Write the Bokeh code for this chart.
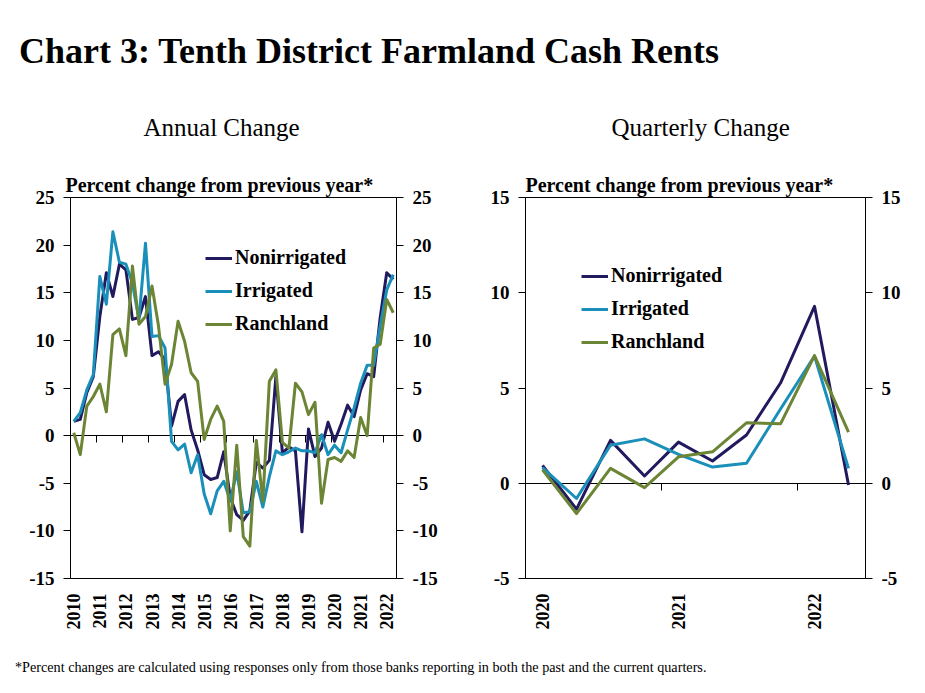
import numpy as np
from bokeh.plotting import figure
from bokeh.models import (Range1d, LinearAxis, FixedTicker, Legend, LegendItem,
                          Title, Div)
from bokeh.layouts import row, column
from bokeh.embed import file_html
from bokeh.resources import INLINE

# ---------------- data ----------------
annual_years = [2010, 2011, 2012, 2013, 2014, 2015, 2016,
                2017, 2018, 2019, 2020, 2021, 2022]
# quarterly observations, 2010Q1 .. 2022Q2
annual_nonirrigated = [1.5, 1.7, 4.5, 6.2, 12.5, 17.1, 14.6, 18.0, 17.4, 12.2,
                       12.4, 14.6, 8.4, 8.8, 8.0, 1.0, 3.6, 4.3, 0.6, -1.5,
                       -4.1, -4.6, -4.4, -1.7, -6.5, -8.3, -8.9, -7.9, -2.8, -3.4,
                       -2.6, 6.2, -1.8, -1.2, -1.6, -10.1, 0.7, -2.2, -1.3, 1.4,
                       -0.6, 1.2, 3.2, 2.0, 4.8, 6.5, 6.2, 12.4, 17.1, 16.4]
annual_irrigated = [1.5, 2.4, 4.8, 6.4, 16.7, 13.8, 21.4, 18.2, 18.0, 16.0,
                    12.2, 20.2, 10.4, 10.5, 9.2, -0.6, -1.5, -0.9, -3.9, -2.0,
                    -6.1, -8.2, -5.8, -4.8, -6.8, -3.8, -8.1, -8.0, -4.8, -7.5,
                    -4.3, -1.6, -2.0, -1.7, -1.3, -1.6, -1.6, -1.8, 0.1, -2.0,
                    -1.0, -1.8, 0.6, 2.9, 5.5, 7.4, 7.4, 11.5, 15.3, 16.9]
annual_ranchland = [0.3, -2.0, 3.1, 4.1, 5.4, 2.5, 10.6, 11.2, 8.4, 17.8,
                    11.7, 12.5, 15.7, 11.5, 5.4, 7.5, 12.0, 9.9, 6.6, 5.7,
                    -0.4, 1.7, 3.1, 1.5, -10.0, -1.0, -10.6, -11.6, -0.5, -6.9,
                    5.7, 6.9, -0.7, -1.3, 5.5, 4.6, 2.2, 3.5, -7.1, -2.5,
                    -2.3, -2.7, -1.6, -2.3, 1.9, 0.0, 9.2, 9.6, 14.3, 12.9]

quarterly_years = [2020, 2021, 2022]
# quarterly observations, 2020Q1 .. 2022Q2
quarterly_nonirrigated = [0.94, -1.36, 2.25, 0.38, 2.16, 1.17, 2.53, 5.26, 9.29, -0.09]
quarterly_irrigated = [0.82, -0.80, 2.00, 2.33, 1.52, 0.85, 1.05, 3.90, 6.68, 0.78]
quarterly_ranchland = [0.70, -1.59, 0.78, -0.23, 1.39, 1.65, 3.17, 3.12, 6.70, 2.68]

series_names = ["Nonirrigated", "Irrigated", "Ranchland"]
series_colors = ["#221a5e", "#1a8fba", "#6b8535"]

annual_ticks = [-15, -10, -5, 0, 5, 10, 15, 20, 25]
quarterly_ticks = [-5, 0, 5, 10, 15]

SERIF = "Liberation Serif"


def make_panel(years, series, yticks, heading, heading_offset, sub_offset,
               frame_width, border_left, border_right, legend_loc):
    n = len(series[0])
    x = np.arange(n)
    p = figure(frame_width=frame_width, frame_height=381,
               x_range=Range1d(-0.5, n - 0.5),
               y_range=Range1d(yticks[0], yticks[-1]),
               output_backend="svg", toolbar_location=None,
               min_border_left=border_left, min_border_right=border_right,
               min_border_top=109, min_border_bottom=70)
    p.grid.visible = False
    p.outline_line_color = "black"
    p.outline_line_alpha = 1.0
    p.outline_line_width = 1
    p.background_fill_color = "white"
    p.border_fill_color = "white"

    # year labels at the first quarter of each year
    label_pos = [4 * k for k in range(len(years))]
    xa = p.xaxis[0]
    xa.ticker = FixedTicker(ticks=label_pos, minor_ticks=[])
    xa.major_label_overrides = {pos: str(yr) for pos, yr in zip(label_pos, years)}
    xa.axis_line_color = None
    xa.major_tick_line_color = None
    xa.minor_tick_line_color = None
    xa.major_label_orientation = np.pi / 2
    xa.major_label_standoff = 9
    xa.major_label_text_font = SERIF
    xa.major_label_text_font_style = "bold"
    xa.major_label_text_font_size = "18px"
    xa.major_label_text_color = "black"

    # category axis crossing at zero, tick marks between years
    bounds = [4 * k - 0.5 for k in range(len(years))]
    zero_axis = LinearAxis(fixed_location=0,
                           ticker=FixedTicker(ticks=bounds, minor_ticks=[]),
                           axis_line_color="black", axis_line_width=1,
                           major_tick_out=7, major_tick_in=0,
                           major_tick_line_color="black",
                           minor_tick_line_color=None,
                           major_label_text_color=None,
                           major_label_text_font_size="1px")
    zero_axis.level = "underlay"
    p.add_layout(zero_axis, "below")

    # y axes, left and right
    ya = p.yaxis[0]
    ra = LinearAxis()
    p.add_layout(ra, "right")
    for ax in (ya, ra):
        ax.ticker = FixedTicker(ticks=yticks, minor_ticks=[])
        ax.major_label_overrides = {t: str(t) for t in yticks}
        ax.axis_line_color = "black"
        ax.major_tick_out = 7
        ax.major_tick_in = 0
        ax.major_tick_line_color = "black"
        ax.minor_tick_line_color = None
        ax.major_label_standoff = 9
        ax.major_label_text_font = SERIF
        ax.major_label_text_font_style = "bold"
        ax.major_label_text_font_size = "19px"
        ax.major_label_text_color = "black"

    items = []
    for name, vals, col in zip(series_names, series, series_colors):
        r = p.line(x, vals, line_color=col, line_width=3, line_join="round")
        items.append(LegendItem(label=name, renderers=[r]))

    legend = Legend(items=items, location=legend_loc, orientation="vertical",
                    background_fill_alpha=0, border_line_color=None,
                    label_text_font=SERIF, label_text_font_style="bold",
                    label_text_font_size="20px", label_text_color="black",
                    glyph_width=27, glyph_height=20, label_height=20,
                    spacing=10, padding=0, margin=0, label_standoff=3)
    p.add_layout(legend)

    sub = Title(text="Percent change from previous year*", align="left",
                offset=sub_offset, text_font=SERIF, text_font_style="bold",
                text_font_size="20px", text_color="black", standoff=3)
    p.add_layout(sub, "above")
    head = Title(text=heading, align="left", offset=heading_offset,
                 text_font=SERIF, text_font_style="normal",
                 text_font_size="25px", text_color="black", standoff=59)
    p.add_layout(head, "above")
    return p


p1 = make_panel(annual_years, [annual_nonirrigated, annual_irrigated, annual_ranchland],
                annual_ticks, "Annual Change", 73, -5, 326, 70, 64, (135, 243))
p2 = make_panel(quarterly_years, [quarterly_nonirrigated, quarterly_irrigated, quarterly_ranchland],
                quarterly_ticks, "Quarterly Change", 86, 0, 340, 65, 42, (56, 225))

title_div = Div(text=("<div style=\"font-family:'Liberation Serif';font-weight:bold;"
                      "font-size:36px;line-height:1;padding-left:14px;padding-top:28px;"
                      "color:black;white-space:nowrap\">"
                      "Chart 3: Tenth District Farmland Cash Rents</div>"),
                width=907, height=72)
foot_div = Div(text=("<div style=\"font-family:'Liberation Serif';font-size:14.2px;"
                     "line-height:1;padding-left:10px;padding-top:7px;color:black;"
                     "white-space:nowrap\">*Percent changes are calculated using responses "
                     "only from those banks reporting in both the past and the current "
                     "quarters.</div>"),
               width=907, height=28)

layout = column(title_div, row(p1, p2), foot_div)

open("out.html", "w").write(file_html(layout, INLINE))
